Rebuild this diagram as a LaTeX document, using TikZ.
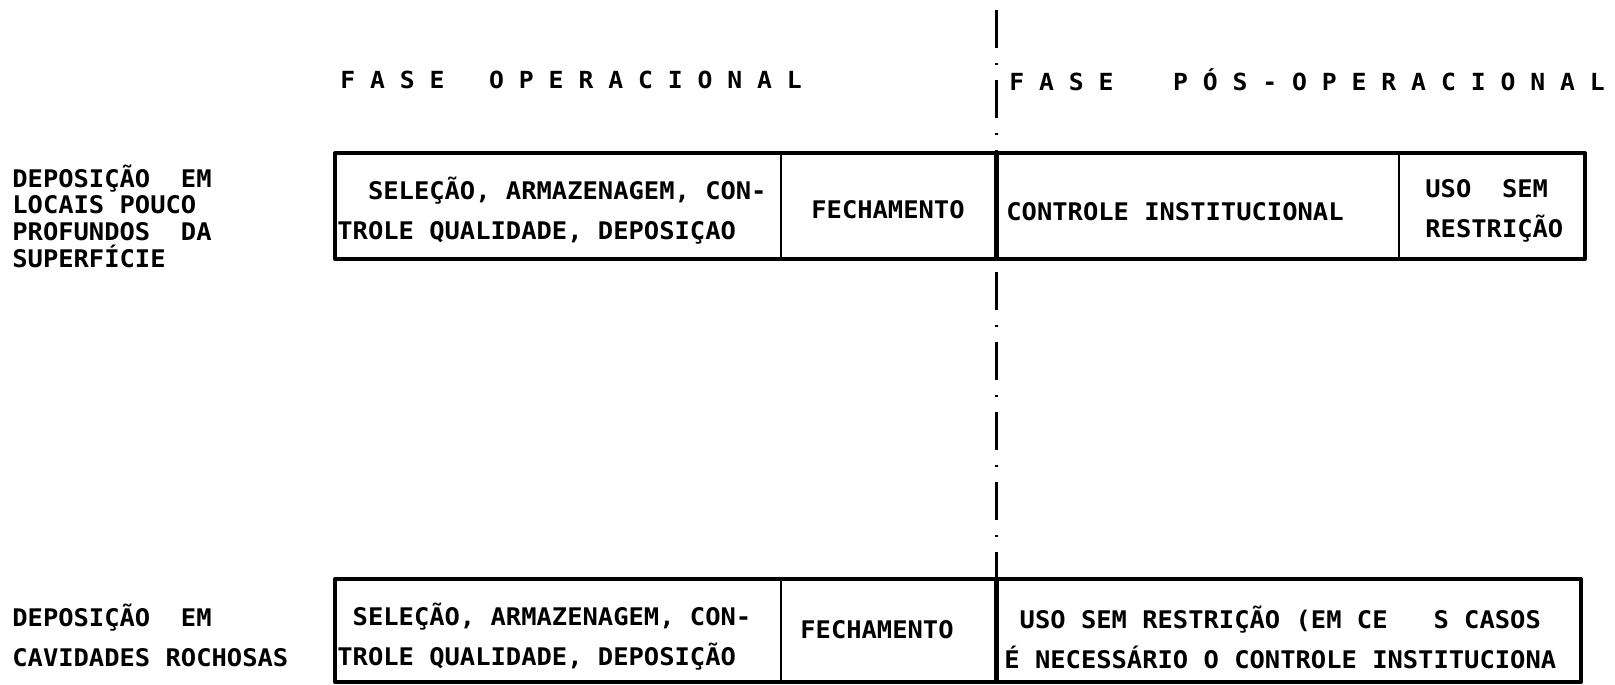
\documentclass[tikz,border=0pt]{standalone}
\usepackage{fontspec}
\newfontfamily\lpfont[FakeStretch=1.05]{DejaVu Sans Mono}
\usetikzlibrary{positioning}
\tikzset{
  boxframe/.style={line width=0.8mm, line join=round},
  divider/.style={line width=0.5mm},
  thickdivider/.style={line width=1mm},
  phaseline/.style={line width=0.6mm, dash pattern=on 7.6mm off 3mm on 0.4mm off 3mm},
  lbl/.style={font=\lpfont\bfseries\fontsize{13.8}{15.2}\selectfont, inner sep=0pt, align=left},
  cell/.style={font=\lpfont\bfseries\fontsize{13.8}{22.8}\selectfont, inner sep=0pt, align=left},
  phasehead/.style={font=\lpfont\bfseries\fontsize{13.4}{14}\selectfont, inner sep=0pt},
}

\begin{document}
\begin{tikzpicture}[x=0.2mm, y=-0.2mm]
				\useasboundingbox (0,0) rectangle (1615,685);
				\coordinate (limtop) at (996,10);
				\coordinate (rasatop) at (996,153);
				\coordinate (rasabot) at (996,259);
				\coordinate (cavidtop) at (996,579);
				\draw [phaseline] (limtop) -- (rasatop);
				\draw [phaseline, dash phase=11.4mm] (rasabot) -- (cavidtop);
				\node [phasehead, anchor=west] (oper) at (340,80) {F A S E ~ O P E R A C I O N A L};
				\node [phasehead, anchor=west] (posoper) at (1009,80) {F A S E ~~ P Ó S - O P E R A C I O N A L};
				\draw [boxframe] (335,153) rectangle (1585,259);
				\draw [divider] (781,153) -- (781,259) (1399,153) -- (1399,259);
				\draw [thickdivider] (rasatop) -- (rasabot);
				\node [lbl, anchor=west] (rasa) at (12,216) {DEPOSIÇÃO~ EM\\LOCAIS POUCO\\PROFUNDOS~ DA\\SUPERFÍCIE};
				\node [cell, anchor=west] (oprasa) at (337,211) {~~SELEÇÃO, ARMAZENAGEM, CON-\\TROLE QUALIDADE, DEPOSIÇAO};
				\node [cell] (fechrasa) at (888,210) {FECHAMENTO};
				\node [cell, anchor=west] (ctrlrasa) at (1006,212) {CONTROLE INSTITUCIONAL};
				\node [cell, anchor=west] (usorasa) at (1425,211) {USO~ SEM\\RESTRIÇÃO};
				\draw [boxframe] (335,579) rectangle (1581,682);
				\draw [divider] (781,579) -- (781,682);
				\draw [thickdivider] (cavidtop) -- (996,682);
				\node [cell, anchor=west] (cavid) at (12,635) {DEPOSIÇÃO~ EM\\CAVIDADES ROCHOSAS};
				\node [cell, anchor=west] (opcavid) at (337,637) {~SELEÇÃO, ARMAZENAGEM, CON-\\TROLE QUALIDADE, DEPOSIÇÃO};
				\node [cell] (fechcavid) at (877,630) {FECHAMENTO};
				\node [cell, anchor=west] (usocavid) at (1004,637) {~USO SEM RESTRIÇÃO (EM CE~~ S CASOS\\É NECESSÁRIO O CONTROLE INSTITUCIONA};
			\end{tikzpicture}
\end{document}
